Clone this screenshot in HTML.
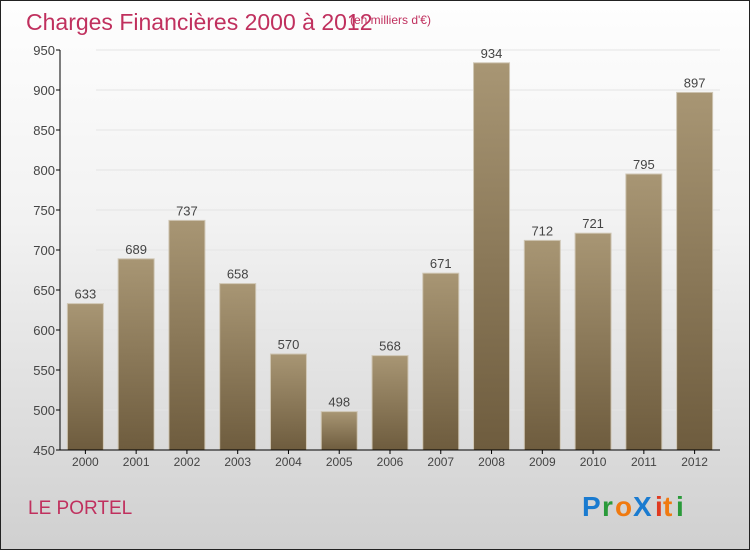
<!DOCTYPE html>
<html><head><meta charset="utf-8"><style>
body{margin:0;width:750px;height:550px;overflow:hidden;font-family:"Liberation Sans",sans-serif}
#wrap{position:absolute;left:0;top:0;width:748px;height:548px;border:1px solid #222;background:linear-gradient(#fefefe,#f2f2f2 40%,#d0d0d0)}
</style></head><body>
<div id="wrap"></div>
<svg id="c" width="750" height="550" style="position:absolute;left:0;top:0">
<defs><linearGradient id="bg" x1="0" y1="0" x2="0" y2="1"><stop offset="0" stop-color="#a89674"/><stop offset="1" stop-color="#6e5c3e"/></linearGradient></defs>
<text x="26" y="30" font-size="23" fill="#c0305e">Charges Financières 2000 à 2012</text>
<text x="350" y="24" font-size="12" fill="#c0305e">(en milliers d'€)</text>
<text x="28" y="514" font-size="19" fill="#c0305e">LE PORTEL</text>
<g font-size="28" font-weight="bold">
<text x="582" y="516" fill="#1a7bd0">P</text><text x="602" y="516" fill="#2a9a3a">r</text><text x="615" y="516" fill="#f07a10">o</text><text x="633" y="516" fill="#1a7bd0">X</text><text x="655" y="516" fill="#e03a20">i</text><text x="663" y="516" fill="#f07a10">t</text><text x="676" y="516" fill="#2a9a3a">i</text></g>
<g id="g"></g>
</svg>
<script>
const years=["2000","2001","2002","2003","2004","2005","2006","2007","2008","2009","2010","2011","2012"];
const values=[633,689,737,658,570,498,568,671,934,712,721,795,897];
const yTicks=[450,500,550,600,650,700,750,800,850,900,950];
const NS="http://www.w3.org/2000/svg",g=document.getElementById('g');
const x0=60,x1=720,yMin=450,yMax=950,py0=450,py1=50;
const y=v=>py0-(v-yMin)/(yMax-yMin)*(py0-py1);
const slot=(x1-x0)/years.length;
const xc=i=>x0+slot*(i+0.5);
function el(t,a,txt){const e=document.createElementNS(NS,t);for(const k in a)e.setAttribute(k,a[k]);if(txt!=null)e.textContent=txt;g.appendChild(e);return e;}
yTicks.forEach(v=>{
 const l=el('line',{x1:x0+36,x2:x1,y1:y(v),y2:y(v),stroke:'#e4e4e4'});
 
 
 const t=el('line',{x1:x0-4,x2:x0,y1:y(v),y2:y(v),stroke:'#000'});
 
 
 const tx=el('text',{x:x0-5,y:y(v)+5,'text-anchor':'end','font-size':13,fill:'#444'},v);
 
 
});
years.forEach((yr,i)=>{
 const b=el('rect',{x:xc(i)-18,y:y(values[i]),width:36,height:py0-y(values[i]),fill:'url(#bg)',stroke:'#cfc6b4','stroke-width':1});
 
 
 const v=el('text',{x:xc(i),y:y(values[i])-5,'text-anchor':'middle','font-size':13,fill:'#444'},values[i]);
 
 
 const t=el('line',{x1:xc(i),x2:xc(i),y1:py0,y2:py0+4,stroke:'#000'});
 
 
 const l=el('text',{x:xc(i),y:py0+16,'text-anchor':'middle','font-size':12,fill:'#444'},yr);
 
 
});
const ya=el('line',{x1:x0,x2:x0,y1:py1,y2:py0,stroke:'#000'});


const xa=el('line',{x1:x0,x2:x1,y1:py0,y2:py0,stroke:'#000'});


</script>
</body></html>
